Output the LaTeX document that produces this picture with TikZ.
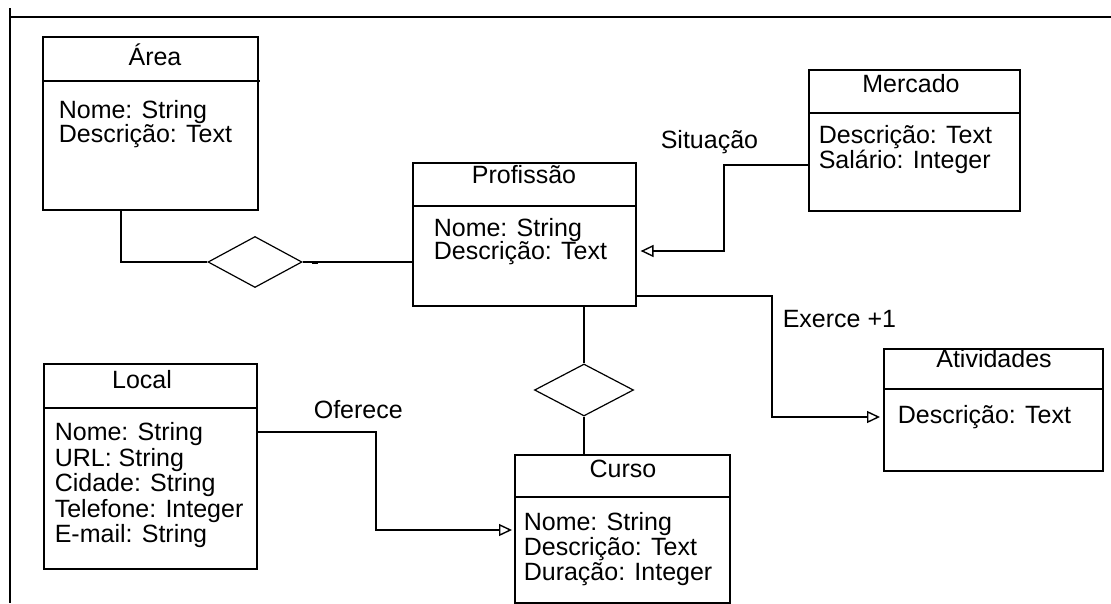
\documentclass[tikz,border=0pt]{standalone}
\usepackage{fontspec}
\setmainfont{Liberation Sans}
\usetikzlibrary{arrows.meta,shapes.geometric}
\newcommand\umlfont{\fontsize{25}{25}\selectfont}
\begin{document}
\begin{tikzpicture}[x=1pt,y=-1pt,
  line width=1.6pt,
  classbox/.style={draw, rectangle, anchor=north west, inner sep=0pt},
  attr/.style={anchor=base west, inner sep=0pt, font=\umlfont},
  ttl/.style={anchor=base, inner sep=0pt, font=\umlfont},
  rel/.style={draw, diamond, inner sep=0pt, line width=1.2pt},
  gen/.style={-{Triangle[open,length=13pt,width=12pt,line width=1.4pt]}}
]
\useasboundingbox (0,0) rectangle (1111,603);

% frame
\draw[line width=2.2pt] (10,8) -- (10,603);
\draw[line width=2.2pt] (10,17) -- (1111,17);

% classes
\node[classbox, minimum width=215pt, minimum height=173pt] (area) at (42,36) {};
\draw ([yshift=-45pt]area.north west) -- ++(218,0);
\node[ttl] (areaT) at (155,65) {Área};
\node[attr] at (58,118) {Nome: String};
\node[attr] at (58,142) {Descrição: Text};

\node[classbox, minimum width=223pt, minimum height=143pt] (profissao) at (412,162) {};
\draw ([yshift=-44pt]profissao.north west) -- ([yshift=-44pt]profissao.north east);
\node[ttl] (profT) at (524,183) {Profissão};
\node[attr] at (433,236) {Nome: String};
\node[attr] at (433,259) {Descrição: Text};

\node[classbox, minimum width=211pt, minimum height=141pt] (mercado) at (808,69) {};
\draw ([yshift=-44pt]mercado.north west) -- ([yshift=-44pt]mercado.north east);
\node[ttl] (mercT) at (911,92) {Mercado};
\node[attr] at (818,143) {Descrição: Text};
\node[attr] at (818,168) {Salário: Integer};

\node[classbox, minimum width=219pt, minimum height=122pt] (atividades) at (883,348) {};
\draw ([yshift=-41pt]atividades.north west) -- ([yshift=-41pt]atividades.north east);
\node[ttl] (ativT) at (994,367) {Atividades};
\node[attr] at (897,423) {Descrição: Text};

\node[classbox, minimum width=213pt, minimum height=205pt] (local) at (43,363) {};
\draw ([yshift=-45pt]local.north west) -- ([yshift=-45pt]local.north east);
\node[ttl] (localT) at (142,388) {Local};
\node[attr] at (54,440) {Nome: String};
\node[attr] at (54,466) {URL: String};
\node[attr] at (54,491) {Cidade: String};
\node[attr] at (54,517) {Telefone: Integer};
\node[attr] at (54,542) {E-mail: String};

\node[classbox, minimum width=215pt, minimum height=148pt] (curso) at (514,454) {};
\draw ([yshift=-43pt]curso.north west) -- ([yshift=-43pt]curso.north east);
\node[ttl] (cursoT) at (623,477) {Curso};
\node[attr] at (523,530) {Nome: String};
\node[attr] at (523,555) {Descrição: Text};
\node[attr] at (523,580) {Duração: Integer};

% relationship diamonds
\node[rel, minimum width=94pt, minimum height=51pt] (d1) at (255,262) {};
\node[rel, minimum width=99pt, minimum height=52pt] (d2) at (584,390) {};

% connectors
\coordinate (b1) at (121,262);
\draw (area.south -| b1) -- (b1) -- (d1.west);
\draw (d1.east) -- (profissao.west |- d1.east);
\draw[line width=3pt] ([xshift=9pt]d1.east) -- ++(6,0);

\draw (d2.north |- profissao.south) -- (d2.north);
\draw (d2.south) -- (d2.south |- curso.north);

\coordinate (m1) at (724,165);
\coordinate (m2) at (724,251);
\draw[gen, shorten >=4pt] (mercado.west |- m1) -- (m1) -- (m2) -- (profissao.east |- m2);

\coordinate (e1) at (772,296);
\coordinate (e2) at (772,417);
\draw[gen, shorten >=3pt] (profissao.east |- e1) -- (e1) -- (e2) -- (atividades.west |- e2);

\coordinate (o1) at (376,432);
\coordinate (o2) at (376,530);
\draw[gen, shorten >=2pt] (local.east |- o1) -- (o1) -- (o2) -- (curso.west |- o2);

% association labels
\node[attr] (sit) at (660,148) {Situação};
\node[attr] (exe) at (782,327) {Exerce +1};
\node[attr] (ofe) at (313,418) {Oferece};
\end{tikzpicture}
\end{document}
